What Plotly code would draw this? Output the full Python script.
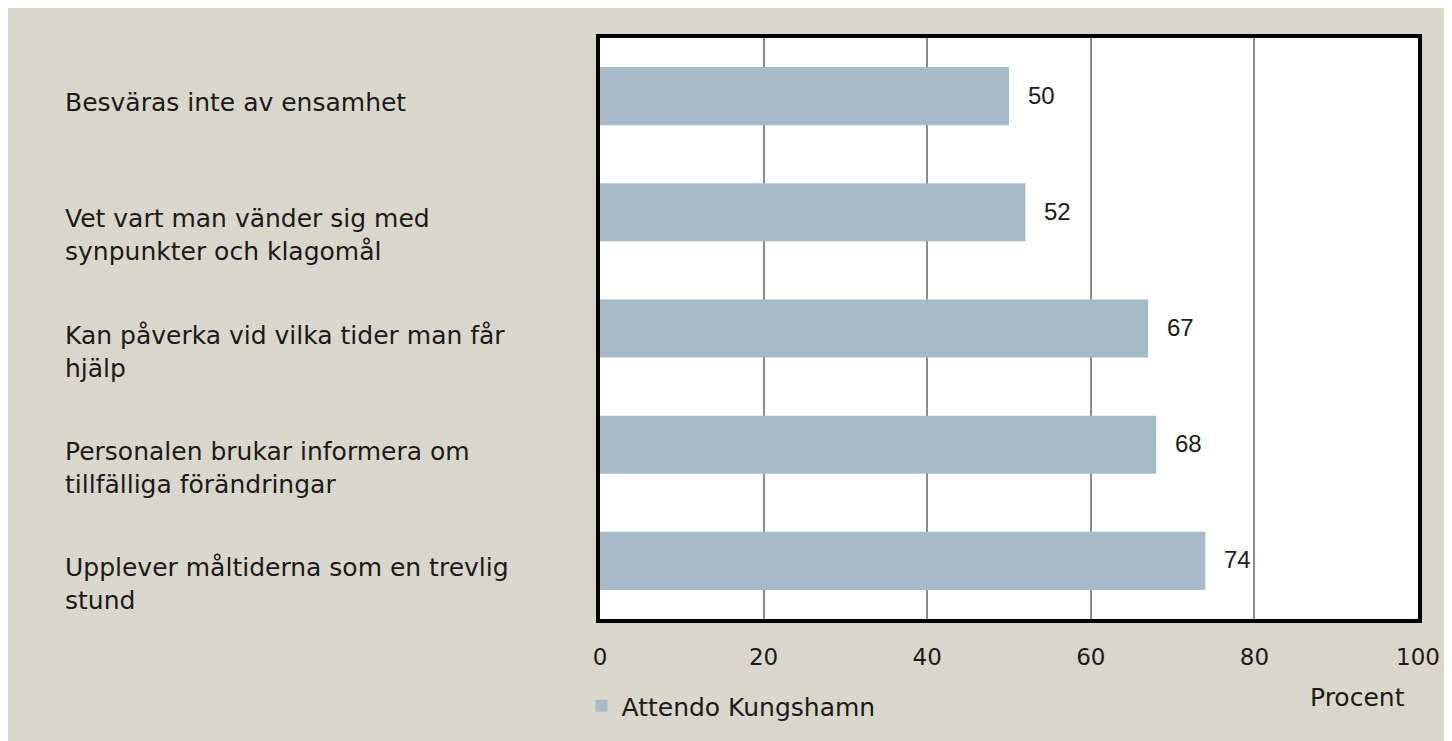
import plotly.graph_objects as go

categories = [
    "Besväras inte av ensamhet",
    "Vet vart man vänder sig med<br>synpunkter och klagomål",
    "Kan påverka vid vilka tider man får<br>hjälp",
    "Personalen brukar informera om<br>tillfälliga förändringar",
    "Upplever måltiderna som en trevlig<br>stund",
]
values = [50, 52, 67, 68, 74]
series_name = "Attendo Kungshamn"
x_ticks = [0, 20, 40, 60, 80, 100]
x_title = "Procent"

# page body adds 8px offset; figure coords = screen coords - 8
OFF = 8
W, H = 1452, 741
L = 600 - OFF
T = 38 - OFF
R = W - (1418 - OFF)
B = H - (619 - OFF)
pw = W - L - R
ph = H - T - B

def px_x(sx):
    return (sx - OFF - L) / pw

def px_y(sy):
    return 1 - (sy - OFF - T) / ph

BAR = "#A7BBC7"
BG = "#D9D7CB"
LABEL_FONT = "DejaVu Sans"
TXT = "#1a1a1a"

fig = go.Figure()
fig.add_trace(go.Bar(
    y=categories, x=values, orientation="h", name=series_name,
    marker=dict(color=BAR, line=dict(width=0)),
    hoverinfo="x+y",
))

annotations = []
for c, v in zip(categories, values):
    annotations.append(dict(
        x=v, y=c, xref="x", yref="y", text=str(v), showarrow=False,
        xanchor="left", yanchor="middle", xshift=17, yshift=1,
        font=dict(family="Liberation Sans", size=24, color=TXT),
    ))
    annotations.append(dict(
        x=px_x(63), y=c, xref="paper", yref="y", text=c, showarrow=False,
        xanchor="left", yanchor="top", yshift=10, align="left",
        font=dict(family=LABEL_FONT, size=25, color=TXT),
    ))
annotations.append(dict(
    x=px_x(1357), y=px_y(697), xref="paper", yref="paper",
    text=x_title, showarrow=False, xanchor="center", yanchor="middle",
    font=dict(family=LABEL_FONT, size=25, color=TXT),
))

fig.update_layout(
    width=W, height=H,
    margin=dict(l=L, r=R, t=T, b=B, pad=0),
    paper_bgcolor=BG,
    plot_bgcolor="white",
    bargap=0.5,
    showlegend=True,
    legend=dict(
        orientation="h", x=px_x(581.5), y=px_y(706),
        xanchor="left", yanchor="middle",
        font=dict(family=LABEL_FONT, size=25, color=TXT),
        bgcolor="rgba(0,0,0,0)", itemwidth=30, itemsizing="constant",
    ),
    xaxis=dict(
        range=[0, 100], tickvals=x_ticks, ticktext=[str(t) for t in x_ticks],
        showgrid=True, gridcolor="#8C8C8C", gridwidth=1.5,
        zeroline=False, showline=True, mirror=True, linecolor="black", linewidth=4,
        ticks="", ticklabelstandoff=14,
        tickfont=dict(family=LABEL_FONT, size=23, color=TXT),
        fixedrange=True,
    ),
    yaxis=dict(
        autorange="reversed", showticklabels=False, showgrid=False,
        zeroline=False, showline=True, mirror=True, linecolor="black", linewidth=4,
        ticks="", fixedrange=True,
    ),
    annotations=annotations,
)

fig.write_html("out.html")
